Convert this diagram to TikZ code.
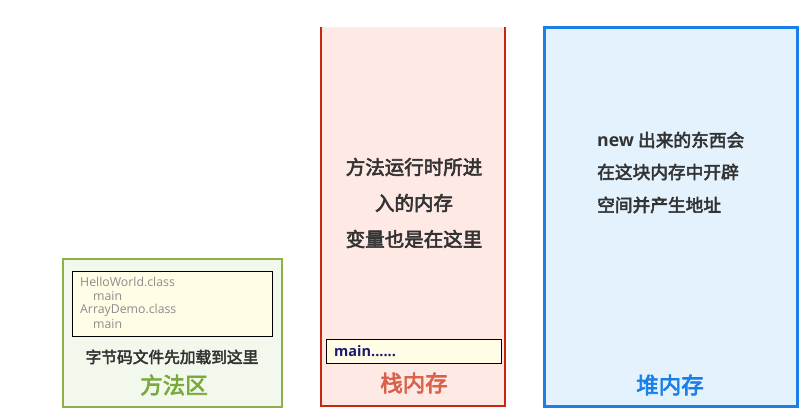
\documentclass[tikz,border=0pt]{standalone}
\usepackage{fontspec}
\setmainfont{Noto Sans CJK SC}
\newfontfamily\latinfont{Open Sans}
\newfontfamily\cjkbold[FakeBold=3]{Noto Sans CJK SC}
\begin{document}
\begin{tikzpicture}[x=1pt,y=-1pt]
\definecolor{mgreen}{HTML}{8DB04A}
\definecolor{mgreenfill}{HTML}{F3F8EC}
\definecolor{mgreentext}{HTML}{7AAA3C}
\definecolor{sred}{HTML}{C8260F}
\definecolor{sredfill}{HTML}{FFE9E5}
\definecolor{sredtext}{HTML}{D9624A}
\definecolor{hblue}{HTML}{1A7FE6}
\definecolor{hbluefill}{HTML}{E3F2FD}
\definecolor{yfill}{HTML}{FFFDE6}
\definecolor{darktxt}{HTML}{333333}
\definecolor{navy}{HTML}{1A1A6E}
\tikzset{
  desc/.style={font=\cjkbold\fontsize{19.5}{19.5}\selectfont, text=darktxt, inner sep=0pt},
  hdesc/.style={font=\cjkbold\fontsize{17.7}{17.7}\selectfont, text=darktxt, inner sep=0pt, anchor=west},
  title/.style={font=\cjkbold\fontsize{22.5}{22.5}\selectfont, inner sep=0pt},
  cls/.style={font=\latinfont\fontsize{12.3}{12.3}\selectfont, text=gray!90, anchor=west, inner sep=0pt},
}
\useasboundingbox (0,0) rectangle (810,414);
% Method area
\draw[mgreen, line width=2.5pt, fill=mgreenfill] (63,259) rectangle (282,407);
\draw[black, line width=0.8pt, fill=yfill] (72,271) rectangle (272,336);
\node[cls] (c1) at (80,282) {HelloWorld.class};
\node[cls] (c2) at (93,296) {main};
\node[cls] (c3) at (80,310) {ArrayDemo.class};
\node[cls] (c4) at (93,324) {main};
\node[desc, font=\cjkbold\fontsize{15.7}{15.7}\selectfont] (m1) at (172,357) {字节码文件先加载到这里};
\node[title, text=mgreentext] (m2) at (174,385) {方法区};
% Stack
\fill[sredfill] (321,27) rectangle (505,406);
\draw[sred, line width=2.5pt] (321,27) -- (321,406) -- (505,406) -- (505,27);
\node[desc] (s1) at (414,167) {方法运行时所进};
\node[desc] (s2) at (414,203) {入的内存};
\node[desc] (s3) at (414,239) {变量也是在这里};
\draw[black, line width=0.8pt, fill=yfill] (326,339) rectangle (501,363);
\node[font=\latinfont\bfseries\fontsize{14.5}{14.5}\selectfont, text=navy, anchor=west, inner sep=0pt] (mn) at (334,351) {main......};
\node[title, text=sredtext] (s4) at (414,383) {栈内存};
% Heap
\draw[hblue, line width=3pt, fill=hbluefill] (544,28) rectangle (797,406);
\node[hdesc] (h1) at (597,140) {{\latinfont\bfseries new} 出来的东西会};
\node[hdesc] (h2) at (597,172) {在这块内存中开辟};
\node[hdesc] (h3) at (597,205) {空间并产生地址};
\node[title, text=hblue] (h4) at (670,385) {堆内存};
\end{tikzpicture}
\end{document}
